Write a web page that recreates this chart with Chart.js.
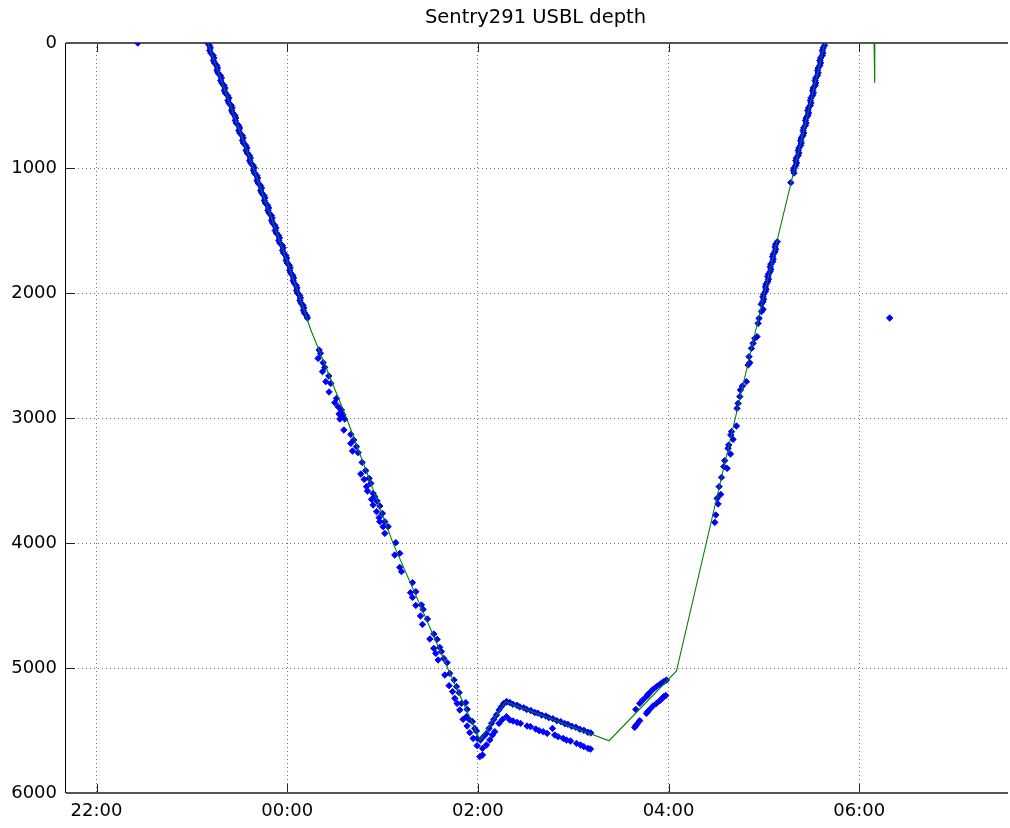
<!DOCTYPE html>
<html>
<head>
<meta charset="utf-8">
<title>Sentry291 USBL depth</title>
<script src="https://cdn.jsdelivr.net/npm/chart.js@4.4.0/dist/chart.umd.min.js"></script>
<style>
    html, body { margin: 0; padding: 0; background: #ffffff; }
</style>
</head>
<body>
<canvas id="depthChart" width="1010" height="828"></canvas>
<script>
// time in hours relative to midnight (negative = previous evening), depth in metres
const X_TICKS = [-2, 0, 2, 4, 6];
const X_TICK_LABELS = ["22:00", "00:00", "02:00", "04:00", "06:00"];
const Y_TICKS_STEP = 1000;

// green line: vehicle depth
const LINE_T = [-0.833, 0.006, 0.248, 0.622, 1.111, 1.687, 2.022, 2.289, 3.376, 4.083, 4.988, 5.638, null, 6.155, 6.160, 6.165];
const LINE_D = [0, 1760, 2296, 3000, 4003, 5008, 5576, 5270, 5582, 5024, 2056, 0, null, 0, 250, 320];

// blue USBL fixes, [time, depth]
const OUTLIERS = [[-1.567, 0], [6.319, 2200]];

const DESCENT_DENSE = [
    [-0.835, 0], [-0.815, 20], [-0.806, 40], [-0.812, 60], [-0.801, 80], [-0.777, 100], [-0.768, 120],
    [-0.774, 140], [-0.762, 160], [-0.739, 180], [-0.731, 200], [-0.736, 220], [-0.726, 240], [-0.701, 260],
    [-0.690, 280], [-0.698, 300], [-0.686, 320], [-0.663, 340], [-0.652, 360], [-0.660, 380], [-0.649, 400],
    [-0.625, 420], [-0.611, 440], [-0.621, 460], [-0.612, 480], [-0.586, 500], [-0.577, 520], [-0.583, 540],
    [-0.572, 560], [-0.548, 580], [-0.540, 600], [-0.545, 620], [-0.535, 640], [-0.510, 660], [-0.498, 680],
    [-0.507, 700], [-0.497, 720], [-0.472, 740], [-0.462, 760], [-0.469, 780], [-0.459, 800], [-0.434, 820],
    [-0.422, 840], [-0.431, 860], [-0.420, 880], [-0.396, 900], [-0.386, 920], [-0.393, 940], [-0.383, 960],
    [-0.358, 980], [-0.346, 1000], [-0.354, 1020], [-0.344, 1040], [-0.319, 1060], [-0.310, 1080], [-0.316, 1100],
    [-0.306, 1120], [-0.281, 1140], [-0.270, 1160], [-0.278, 1180], [-0.268, 1200], [-0.243, 1220], [-0.233, 1240],
    [-0.240, 1260], [-0.230, 1280], [-0.205, 1300], [-0.195, 1320], [-0.202, 1340], [-0.191, 1360], [-0.167, 1380],
    [-0.157, 1400], [-0.164, 1420], [-0.153, 1440], [-0.129, 1460], [-0.118, 1480], [-0.126, 1500], [-0.115, 1520],
    [-0.091, 1540], [-0.081, 1560], [-0.088, 1580], [-0.077, 1600], [-0.052, 1620], [-0.042, 1640], [-0.049, 1660],
    [-0.038, 1680], [-0.014, 1700], [-0.006, 1720], [-0.011, 1740], [0.000, 1760], [0.023, 1780], [0.031, 1800],
    [0.026, 1820], [0.036, 1840], [0.059, 1860], [0.067, 1880], [0.062, 1900], [0.072, 1920], [0.095, 1940],
    [0.103, 1960], [0.098, 1980], [0.108, 2000], [0.131, 2020], [0.139, 2040], [0.134, 2060], [0.144, 2080],
    [0.167, 2100], [0.175, 2120], [0.170, 2140], [0.181, 2160], [0.203, 2180], [0.212, 2200]
];

const DESCENT_SCATTER = [
    [0.335, 2456], [0.349, 2483], [0.324, 2523], [0.377, 2557], [0.394, 2595], [0.370, 2629], [0.436, 2664],
    [0.405, 2709], [0.457, 2723], [0.439, 2792], [0.517, 2843], [0.499, 2877], [0.534, 2909], [0.569, 2936],
    [0.544, 2968], [0.586, 2976], [0.552, 3008], [0.604, 3008], [0.594, 3096], [0.667, 3131], [0.698, 3176],
    [0.667, 3203], [0.727, 3229], [0.685, 3264], [0.744, 3277], [0.786, 3355], [0.824, 3421], [0.772, 3448],
    [0.807, 3491], [0.859, 3483], [0.877, 3523], [0.832, 3549], [0.842, 3584], [0.901, 3603], [0.919, 3629],
    [0.884, 3651], [0.943, 3664], [0.901, 3696], [0.971, 3704], [0.937, 3749], [0.999, 3763], [0.964, 3797],
    [1.024, 3829], [0.971, 3829], [1.058, 3869], [1.006, 3869], [1.024, 3923], [1.139, 3997], [1.181, 4083],
    [1.128, 4096], [1.181, 4195], [1.199, 4229], [1.314, 4317], [1.293, 4397], [1.349, 4389], [1.314, 4435],
    [1.408, 4496], [1.349, 4499], [1.425, 4531], [1.398, 4584], [1.471, 4608], [1.419, 4651], [1.538, 4728],
    [1.496, 4768], [1.572, 4771], [1.600, 4835], [1.538, 4843], [1.618, 4869], [1.558, 4883], [1.642, 4923],
    [1.583, 4936], [1.677, 4957], [1.705, 5043], [1.653, 5056], [1.750, 5096], [1.698, 5141], [1.776, 5149],
    [1.734, 5189], [1.803, 5197], [1.758, 5243], [1.828, 5283], [1.782, 5283], [1.873, 5277], [1.810, 5336],
    [1.887, 5331], [1.880, 5389], [1.908, 5411], [1.845, 5411], [1.943, 5429], [1.887, 5464], [1.967, 5483],
    [1.915, 5517], [1.950, 5563], [1.992, 5563], [2.027, 5576], [1.992, 5621], [1.985, 5504], [2.020, 5709],
    [2.048, 5696], [2.062, 5547]
];

const BOTTOM_UPPER = [
    [2.090, 5523], [2.117, 5483], [2.143, 5443], [2.167, 5411], [2.195, 5376], [2.222, 5336], [2.247, 5309],
    [2.272, 5283], [2.300, 5269], [2.303, 5270], [2.335, 5276], [2.367, 5290], [2.409, 5298], [2.439, 5311],
    [2.481, 5318], [2.513, 5332], [2.555, 5340], [2.597, 5356], [2.628, 5361], [2.670, 5377], [2.712, 5384],
    [2.744, 5397], [2.786, 5405], [2.828, 5421], [2.870, 5429], [2.912, 5445], [2.943, 5450], [2.985, 5466],
    [3.027, 5474], [3.069, 5490], [3.111, 5498], [3.153, 5514], [3.184, 5519]
];

const BOTTOM_LOWER = [
    [2.048, 5643], [2.090, 5616], [2.125, 5576], [2.153, 5536], [2.177, 5509], [2.222, 5443], [2.258, 5411],
    [2.300, 5389], [2.335, 5416], [2.369, 5424], [2.411, 5435], [2.447, 5443], [2.516, 5464], [2.552, 5469],
    [2.607, 5488], [2.642, 5501], [2.684, 5509], [2.726, 5523], [2.782, 5483], [2.806, 5536], [2.841, 5549],
    [2.894, 5563], [2.929, 5576], [2.971, 5584], [3.034, 5603], [3.076, 5616], [3.111, 5629], [3.156, 5643],
    [3.181, 5648]
];

const CLIMB_START_UPPER = [
    [3.656, 5331], [3.698, 5283], [3.729, 5256], [3.768, 5229], [3.781, 5213], [3.803, 5197], [3.837, 5171],
    [3.873, 5149], [3.908, 5131], [3.929, 5120], [3.950, 5109], [3.978, 5096]
];

const CLIMB_START_LOWER = [
    [3.645, 5475], [3.658, 5460], [3.670, 5448], [3.698, 5421], [3.768, 5363], [3.781, 5349], [3.803, 5331],
    [3.837, 5304], [3.873, 5283], [3.908, 5261], [3.929, 5245], [3.950, 5229], [3.971, 5220]
];

const ASCENT_SCATTER = [
    [4.485, 3835], [4.495, 3776], [4.519, 3688], [4.509, 3643], [4.547, 3611], [4.530, 3549], [4.555, 3475],
    [4.614, 3403], [4.579, 3389], [4.589, 3341], [4.649, 3288], [4.624, 3243], [4.631, 3216], [4.676, 3171],
    [4.652, 3136], [4.660, 3109], [4.712, 3064], [4.718, 2923], [4.729, 2883], [4.747, 2829], [4.754, 2776],
    [4.775, 2744], [4.817, 2709], [4.834, 2576], [4.852, 2557], [4.844, 2509], [4.869, 2443], [4.886, 2403],
    [4.904, 2363], [4.928, 2349], [4.939, 2243], [4.949, 2203], [4.974, 2149], [4.991, 2131]
];

const ASCENT_DENSE = [
    [4.972, 2090], [4.990, 2070], [4.997, 2050], [4.990, 2030], [4.997, 2010], [5.015, 1990], [5.022, 1970],
    [5.016, 1950], [5.022, 1930], [5.040, 1910], [5.048, 1890], [5.041, 1870], [5.047, 1850], [5.065, 1830],
    [5.073, 1810], [5.066, 1790], [5.072, 1770], [5.091, 1750], [5.098, 1730], [5.091, 1710], [5.098, 1690],
    [5.116, 1670], [5.123, 1650], [5.117, 1630], [5.123, 1610], [5.140, 1590],
    [5.282, 1117], [5.316, 1040], [5.310, 1020], [5.316, 1000], [5.334, 980], [5.342, 960], [5.335, 940],
    [5.341, 920], [5.359, 900], [5.367, 880], [5.360, 860], [5.367, 840], [5.385, 820], [5.392, 800],
    [5.385, 780], [5.392, 760], [5.410, 740], [5.418, 720], [5.411, 700], [5.417, 680], [5.435, 660],
    [5.443, 640], [5.436, 620], [5.443, 600], [5.461, 580], [5.468, 560], [5.461, 540], [5.468, 520],
    [5.486, 500], [5.494, 480], [5.487, 460], [5.493, 440], [5.511, 420], [5.519, 400], [5.512, 380],
    [5.518, 360], [5.537, 340], [5.544, 320], [5.537, 300], [5.544, 280], [5.562, 260], [5.569, 240],
    [5.563, 220], [5.569, 200], [5.587, 180], [5.594, 160], [5.588, 140], [5.595, 120], [5.613, 100],
    [5.619, 80], [5.613, 60], [5.621, 40], [5.636, 20]
];

const tickFont = { family: "'DejaVu Sans', sans-serif", size: 18 };

function toPoints(pairs) {
    return pairs.map(p => ({ x: p[0], y: p[1] }));
}

const usblPoints = [].concat(
    toPoints(OUTLIERS), toPoints(DESCENT_DENSE), toPoints(DESCENT_SCATTER),
    toPoints(BOTTOM_UPPER), toPoints(BOTTOM_LOWER), toPoints(CLIMB_START_UPPER),
    toPoints(CLIMB_START_LOWER), toPoints(ASCENT_SCATTER), toPoints(ASCENT_DENSE)
);

const linePoints = LINE_T.map((t, i) => ({ x: t, y: LINE_D[i] }));

// solid frame and inward tick marks like the original plot
const axisBox = {
    id: "axisBox",
    afterLayout(chart) {
        // plot box runs almost to the right edge of the figure
        const a = chart.chartArea;
        const xs = chart.scales.x;
        const target = chart.width - 2;
        if (a.right !== target) {
            a.right = target;
            a.width = a.right - a.left;
            xs.right = target;
            xs.width = xs.right - xs.left;
            xs.configure();
        }
    },
    beforeDatasetsDraw(chart) {
        const ctx = chart.ctx;
        const a = chart.chartArea;
        const xs = chart.scales.x;
        const ys = chart.scales.y;
        ctx.save();

        ctx.strokeStyle = "#222";
        ctx.lineWidth = 1;
        ctx.beginPath();
        X_TICKS.forEach(v => {
            const px = Math.round(xs.getPixelForValue(v)) + 0.5;
            ctx.moveTo(px, a.top);
            ctx.lineTo(px, a.top + 9);
            ctx.moveTo(px, a.bottom);
            ctx.lineTo(px, a.bottom - 9);
        });
        ys.ticks.forEach(t => {
            const py = Math.round(ys.getPixelForValue(t.value)) + 0.5;
            ctx.moveTo(a.left, py);
            ctx.lineTo(a.left + 9, py);
        });
        ctx.stroke();

        ctx.strokeStyle = "#555";
        ctx.lineWidth = 2;
        ctx.beginPath();
        ctx.moveTo(a.left, a.top);
        ctx.lineTo(a.right, a.top);
        ctx.moveTo(a.left, a.bottom);
        ctx.lineTo(a.right, a.bottom);
        ctx.stroke();

        ctx.strokeStyle = "#000";
        ctx.lineWidth = 1;
        ctx.beginPath();
        ctx.moveTo(a.left - 0.5, a.top);
        ctx.lineTo(a.left - 0.5, a.bottom);
        ctx.stroke();

        ctx.restore();
    }
};

new Chart("depthChart", {
    type: "scatter",
    data: {
        datasets: [
            {
                type: "line",
                label: "depth",
                data: linePoints,
                borderColor: "#008000",
                borderWidth: 1.1,
                pointRadius: 0,
                fill: false,
                tension: 0,
                spanGaps: false,
                order: 0
            },
            {
                label: "USBL",
                data: usblPoints,
                pointStyle: "rectRot",
                pointRadius: 3.2,
                backgroundColor: "#0000ff",
                borderColor: "#0000ff",
                borderWidth: 1,
                order: 1
            }
        ]
    },
    options: {
        responsive: false,
        animation: false,
        layout: {
            padding: { top: 0, right: 0, bottom: 0, left: 0 }
        },
        plugins: {
            legend: { display: false },
            tooltip: { enabled: false },
            title: {
                display: true,
                text: "Sentry291 USBL depth",
                fullSize: false,
                color: "#000",
                font: { family: "'DejaVu Sans', sans-serif", size: 19.5, weight: "normal" },
                padding: { top: 6, bottom: 13.6 }
            }
        },
        scales: {
            x: {
                type: "linear",
                min: -2.32,
                max: 7.56,
                afterBuildTicks: (scale) => {
                    scale.ticks = X_TICKS.map(v => ({ value: v }));
                },
                afterFit: (scale) => {
                    scale.height = 35;
                },
                ticks: {
                    autoSkip: false,
                    maxRotation: 0,
                    padding: 8,
                    color: "#000",
                    font: tickFont,
                    callback: (v) => X_TICK_LABELS[X_TICKS.indexOf(v)]
                },
                grid: {
                    color: "rgba(0, 0, 0, 0.55)",
                    lineWidth: 1,
                    drawTicks: false
                },
                border: { display: false, dash: [1, 3] }
            },
            y: {
                reverse: true,
                min: 0,
                max: 6000,
                afterFit: (scale) => {
                    scale.width = 66;
                },
                ticks: {
                    stepSize: Y_TICKS_STEP,
                    padding: 9,
                    color: "#000",
                    font: tickFont,
                    callback: (v) => String(v)
                },
                grid: {
                    color: "rgba(0, 0, 0, 0.55)",
                    lineWidth: 1,
                    drawTicks: false
                },
                border: { display: false, dash: [1, 3] }
            }
        }
    },
    plugins: [axisBox]
});
</script>
</body>
</html>
